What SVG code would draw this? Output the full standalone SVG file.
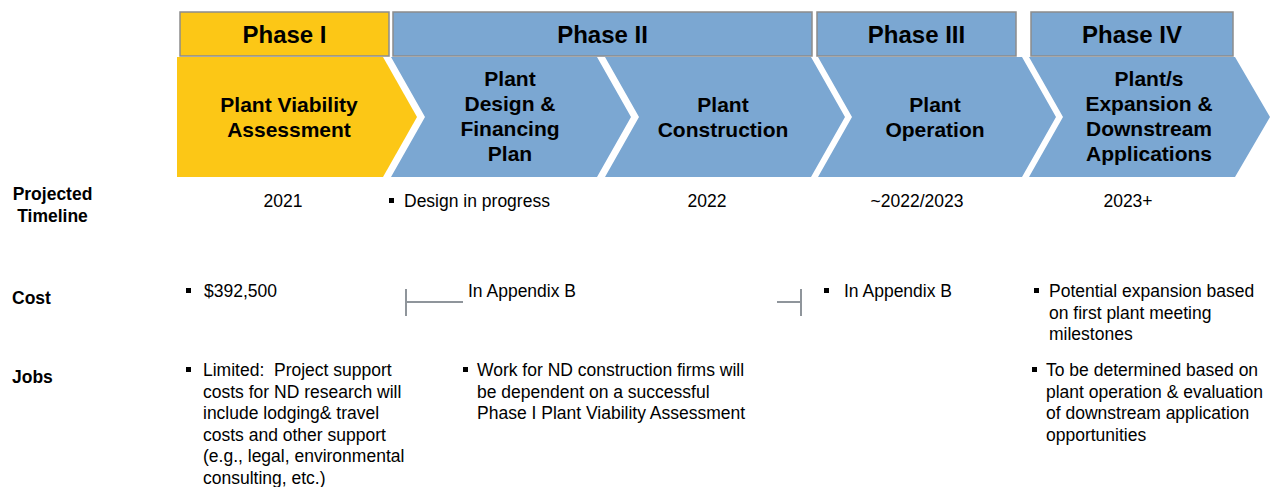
<svg xmlns="http://www.w3.org/2000/svg" width="1276" height="487" viewBox="0 0 1276 487">
  <style>
    .hdr { stroke: #8c8c8c; stroke-width: 1.5; }
    .yel { fill: #fcc716; }
    .blu { fill: #7ba7d2; }
    .hdr-t { font-family: "Liberation Sans", Arial, sans-serif; font-weight: bold; font-size: 24px; fill: #000; text-anchor: middle; }
    .chev-t { font-family: "Liberation Sans", Arial, sans-serif; font-weight: bold; font-size: 21px; fill: #000; text-anchor: middle; }
    .lbl { font-family: "Liberation Sans", Arial, sans-serif; font-weight: bold; font-size: 17.5px; fill: #000; }
    .txt { font-family: "Liberation Sans", Arial, sans-serif; font-size: 17.5px; fill: #000; }
    .mid { text-anchor: middle; }
    .bul { fill: #000; }
    .brk { stroke: #8f959b; stroke-width: 2; fill: none; }
  </style>
  <defs>
    <rect id="b" width="5" height="5"/>
  </defs>
  <rect width="1276" height="487" fill="#fff"/>

  <!-- phase headers -->
  <g id="phase1">
    <rect class="hdr yel" x="180" y="12" width="209" height="44"/>
    <text class="hdr-t" x="284.5" y="43">Phase I</text>
  </g>
  <g id="phase2">
    <rect class="hdr blu" x="393" y="12" width="419" height="44"/>
    <text class="hdr-t" x="602.5" y="43">Phase II</text>
  </g>
  <g id="phase3">
    <rect class="hdr blu" x="817" y="12" width="199" height="44"/>
    <text class="hdr-t" x="916.5" y="43">Phase III</text>
  </g>
  <g id="phase4">
    <rect class="hdr blu" x="1031" y="12" width="202" height="44"/>
    <text class="hdr-t" x="1132" y="43">Phase IV</text>
  </g>

  <!-- process chevrons -->
  <g id="viability">
    <polygon class="yel" points="177,57 383,57 417,117 383,177 177,177"/>
    <text class="chev-t" x="289" y="112">Plant Viability</text>
    <text class="chev-t" x="289" y="137">Assessment</text>
  </g>
  <g id="design">
    <polygon class="blu" points="391,57 597,57 631,117 597,177 391,177 425,117"/>
    <text class="chev-t" x="510" y="86">Plant</text>
    <text class="chev-t" x="510" y="111">Design &amp;</text>
    <text class="chev-t" x="510" y="136">Financing</text>
    <text class="chev-t" x="510" y="161">Plan</text>
  </g>
  <g id="construction">
    <polygon class="blu" points="605,57 811,57 845,117 811,177 605,177 639,117"/>
    <text class="chev-t" x="723" y="112">Plant</text>
    <text class="chev-t" x="723" y="137">Construction</text>
  </g>
  <g id="operation">
    <polygon class="blu" points="818,57 1022,57 1056,117 1022,177 818,177 852,117"/>
    <text class="chev-t" x="935" y="112">Plant</text>
    <text class="chev-t" x="935" y="137">Operation</text>
  </g>
  <g id="expansion">
    <polygon class="blu" points="1029,57 1235,57 1270,117 1235,177 1029,177 1063,117"/>
    <text class="chev-t" x="1149" y="86">Plant/s</text>
    <text class="chev-t" x="1149" y="111">Expansion &amp;</text>
    <text class="chev-t" x="1149" y="136">Downstream</text>
    <text class="chev-t" x="1149" y="161">Applications</text>
  </g>

  <!-- row labels -->
  <g id="row-labels">
    <text class="lbl mid" x="52.5" y="200">Projected</text>
    <text class="lbl mid" x="52.5" y="222">Timeline</text>
    <text class="lbl" x="12" y="304">Cost</text>
    <text class="lbl" x="12" y="383">Jobs</text>
  </g>

  <!-- projected timeline row -->
  <g id="timeline">
    <text class="txt mid" x="283" y="207">2021</text>
    <use href="#b" class="bul" x="389" y="198"/>
    <text class="txt" x="404" y="207">Design in progress</text>
    <text class="txt mid" x="707" y="207">2022</text>
    <text class="txt mid" x="917" y="207">~2022/2023</text>
    <text class="txt mid" x="1128" y="207">2023+</text>
  </g>

  <!-- cost row -->
  <g id="cost">
    <use href="#b" class="bul" x="186" y="288"/>
    <text class="txt" x="204" y="297">$392,500</text>
    <text class="txt" x="468" y="297">In Appendix B</text>
    <use href="#b" class="bul" x="824" y="288"/>
    <text class="txt" x="844" y="297">In Appendix B</text>
    <use href="#b" class="bul" x="1034" y="288"/>
    <text class="txt" x="1049" y="297">Potential expansion based</text>
    <text class="txt" x="1049" y="319">on first plant meeting</text>
    <text class="txt" x="1049" y="340">milestones</text>
  </g>

  <!-- span bracket across phase II -->
  <g id="connectors">
    <path class="brk" d="M406,289 V316 M406,302 H463"/>
    <path class="brk" d="M777,302 H801 M801,289 V316"/>
  </g>

  <!-- jobs row -->
  <g id="jobs">
    <use href="#b" class="bul" x="186" y="367"/>
    <text class="txt" x="203" y="376" xml:space="preserve">Limited:  Project support</text>
    <text class="txt" x="203" y="397.5">costs for ND research will</text>
    <text class="txt" x="203" y="419">include lodging&amp; travel</text>
    <text class="txt" x="203" y="440.5">costs and other support</text>
    <text class="txt" x="203" y="462">(e.g., legal, environmental</text>
    <text class="txt" x="203" y="483.5">consulting, etc.)</text>

    <use href="#b" class="bul" x="463" y="367"/>
    <text class="txt" x="477" y="376">Work for ND construction firms will</text>
    <text class="txt" x="477" y="397.5">be dependent on a successful</text>
    <text class="txt" x="477" y="419">Phase I Plant Viability Assessment</text>

    <use href="#b" class="bul" x="1032" y="367"/>
    <text class="txt" x="1046" y="376">To be determined based on</text>
    <text class="txt" x="1046" y="397.5">plant operation &amp; evaluation</text>
    <text class="txt" x="1046" y="419">of downstream application</text>
    <text class="txt" x="1046" y="440.5">opportunities</text>
  </g>
</svg>
